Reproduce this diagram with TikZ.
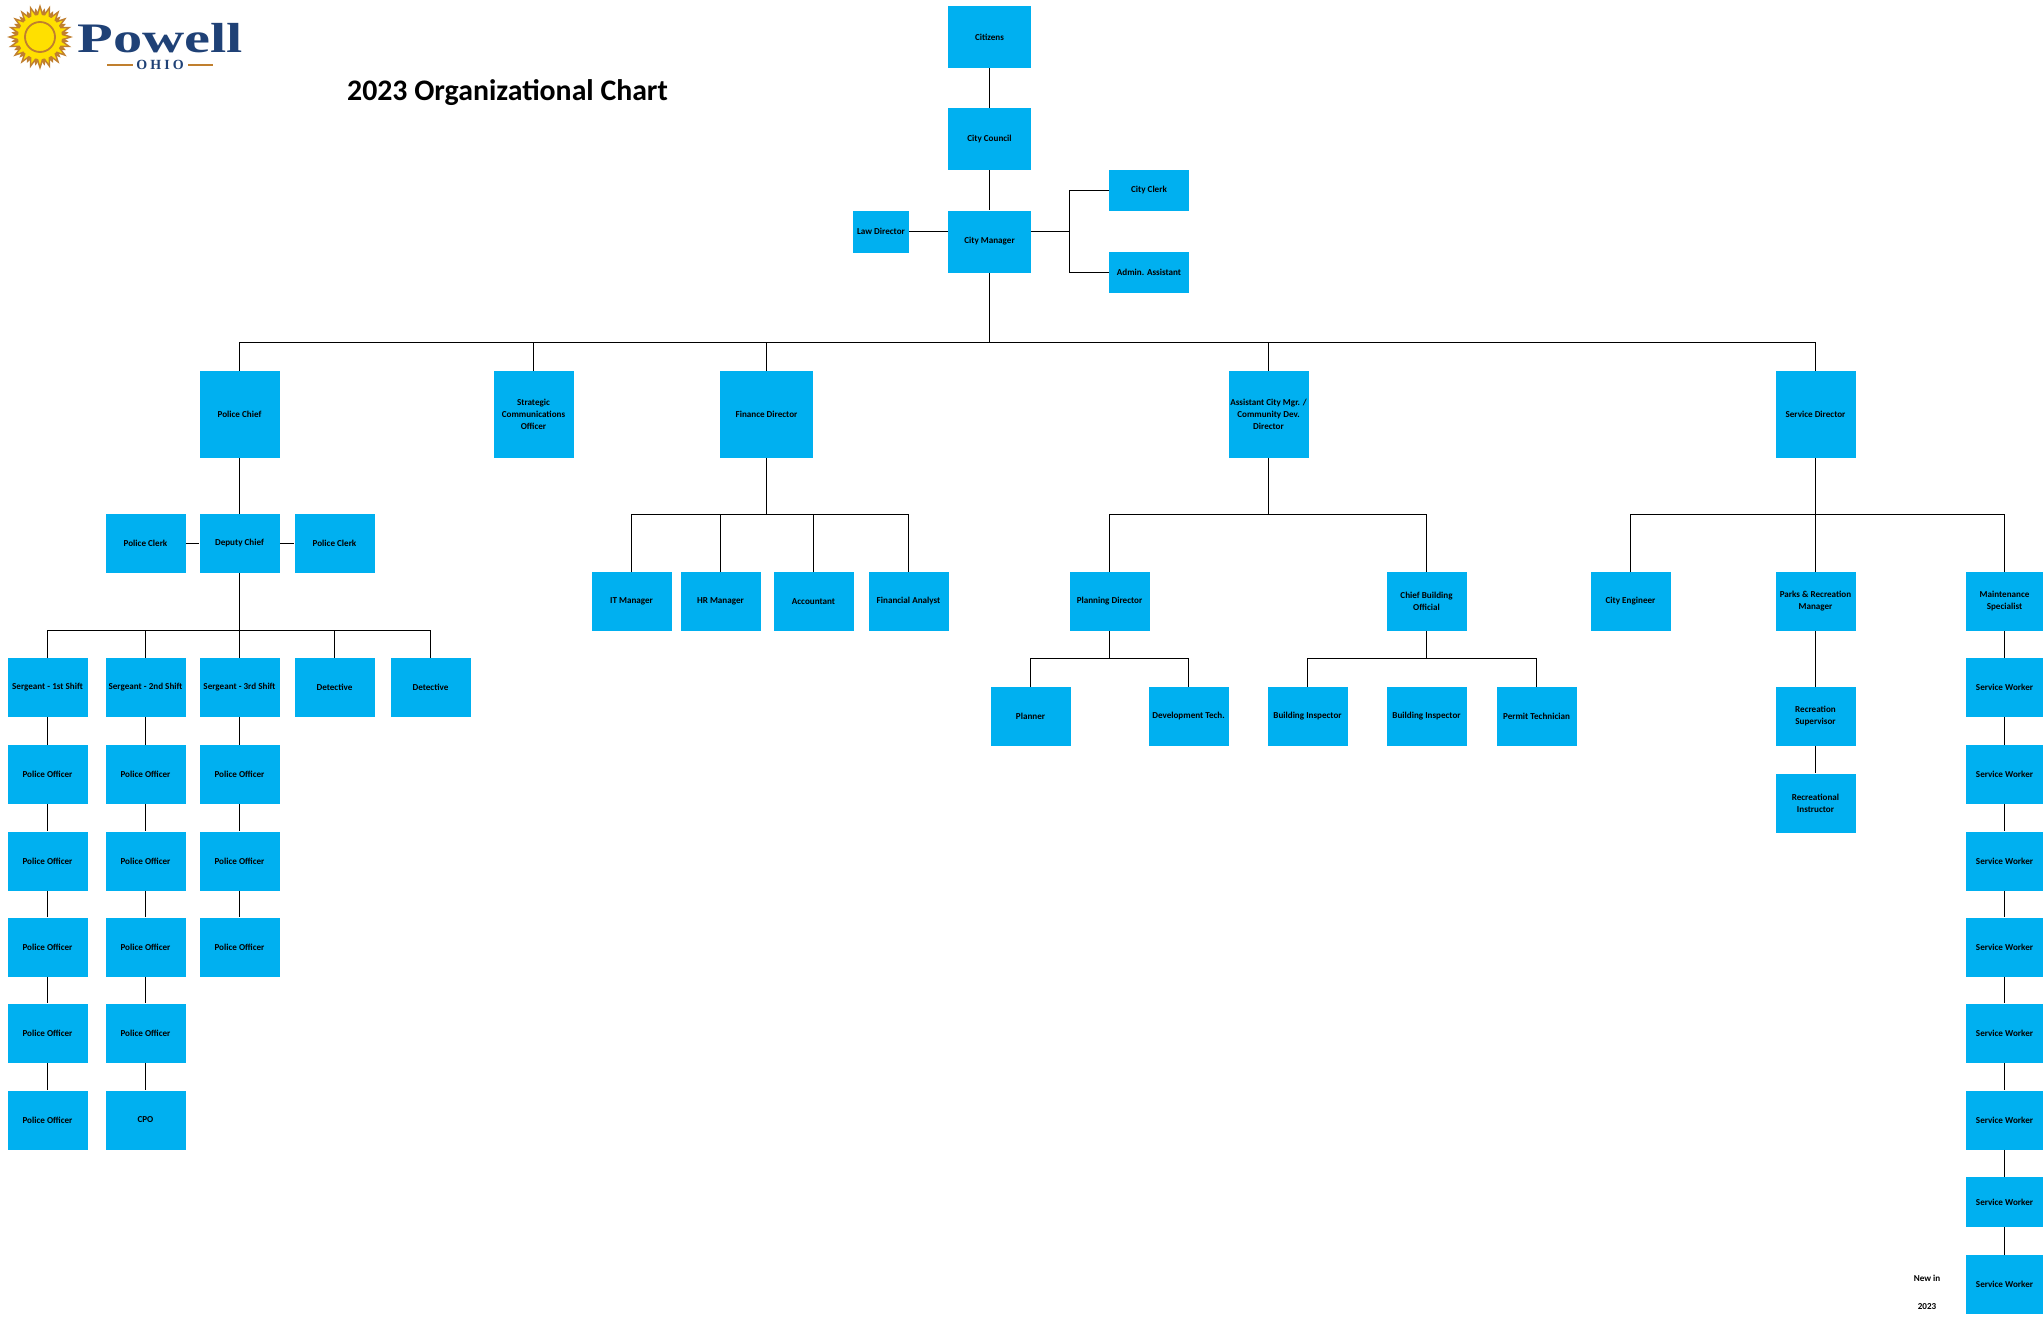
\documentclass[tikz,border=0pt]{standalone}
\usepackage{fontspec}
\setmainfont{Carlito}
\newfontfamily\logofont{Liberation Serif}
\usepackage{tikz}

\definecolor{boxblue}{HTML}{00B0F0}
\definecolor{sunbrown}{HTML}{C07F2E}
\definecolor{sunyellow}{HTML}{FFE000}
\definecolor{logoblue}{HTML}{1F4176}

\tikzset{
	orgbox/.style={fill=boxblue, font=\fontsize{4.55}{6}\selectfont\bfseries, align=center, inner sep=0pt, minimum width=40pt, minimum height=29.5pt},
	tallbox/.style={orgbox, minimum height=43.5pt},
	topbox/.style={orgbox, minimum width=41.5pt, minimum height=31pt},
	smallbox/.style={orgbox, minimum height=20.5pt},
	plaintext/.style={font=\fontsize{4.55}{6}\selectfont\bfseries, inner sep=0pt},
	link/.style={line width=0.7pt}
}

\begin{document}
\begin{tikzpicture}[x=0.5pt, y=-0.5pt]
	\useasboundingbox (0,0) rectangle (2043,1323);

	% logo
	\begin{scope}[shift={(40,37)}]
		\foreach \a in {0,18,...,342} \fill[sunbrown] (\a-11:21) -- (\a:33) -- (\a+11:21) -- cycle;
		\foreach \a in {9,27,...,351} \fill[sunbrown] (\a-10:21) -- (\a:29) -- (\a+10:21) -- cycle;
		\foreach \a in {0,18,...,342} \fill[sunyellow] (\a-7:20) -- (\a:28) -- (\a+7:20) -- cycle;
		\fill[sunyellow] (0,0) circle (22);
		\draw[sunbrown, line width=0.9pt, fill=sunyellow] (0,0) circle (15);
	\end{scope}
	\node[font=\logofont\bfseries\fontsize{21}{21}\selectfont, text=logoblue, inner sep=0pt, anchor=base, xscale=1.39, transform shape] (powell) at (160.5,52) {Powell};
	\node[font=\logofont\bfseries\fontsize{7}{7}\selectfont\addfontfeature{LetterSpace=22}, text=logoblue, inner sep=0pt] (ohio) at (160,65) {OHIO};
	\fill[sunbrown] (107,63.5) rectangle (133,65.5);
	\fill[sunbrown] (188,63.5) rectangle (213,65.5);

	\node[font=\fontsize{14.9}{16}\selectfont\bfseries, inner sep=0pt] (title) at (507.5,92.5) {2023 Organizational Chart};

	% top of the chart
	\node[topbox] (citizens) at (989.5,37) {Citizens};
	\node[topbox] (council) at (989.5,139) {City Council};
	\node[topbox] (manager) at (989.5,241.5) {City Manager};
	\node[orgbox, minimum width=28pt, minimum height=21pt] (law) at (881,231.5) {Law Director};
	\node[smallbox] (clerk) at (1149,190.5) {City Clerk};
	\node[smallbox] (admin) at (1149,272.5) {Admin. Assistant};

	\coordinate (officeJoint) at (1069.5,231.5);
	\coordinate (topBus) at (989.5,342.5);

	\draw[link] (citizens) -- (council);
	\draw[link] (council) -- (manager);
	\draw[link] (law.east) -- (law.east -| manager.west);
	\draw[link] (officeJoint -| manager.east) -- (officeJoint);
	\draw[link] (clerk.west) -| (officeJoint);
	\draw[link] (admin.west) -| (officeJoint);
	\draw[link] (manager.south) -- (topBus);

	% directors
	\node[tallbox] (chief) at (239.5,414.5) {Police Chief};
	\node[tallbox] (strategic) at (533.5,414.5) {Strategic\\Communications\\Officer};
	\node[tallbox, minimum width=46.5pt] (finance) at (766.5,414.5) {Finance Director};
	\node[tallbox] (assistant) at (1268.5,414.5) {Assistant City Mgr. /\\Community Dev.\\Director};
	\node[tallbox] (service) at (1815.5,414.5) {Service Director};

	\foreach \n in {chief,strategic,finance,assistant,service}
		\draw[link] (topBus) -| (\n.north);

	% police
	\node[orgbox] (deputy) at (239.5,543.5) {Deputy Chief};
	\node[orgbox] (policeClerkA) at (145.5,543.5) {Police Clerk};
	\node[orgbox] (policeClerkB) at (334.5,543.5) {Police Clerk};
	\node[orgbox] (sergeantA) at (47.5,687.5) {Sergeant - 1st Shift};
	\node[orgbox] (sergeantB) at (145.5,687.5) {Sergeant - 2nd Shift};
	\node[orgbox] (sergeantC) at (239.5,687.5) {Sergeant - 3rd Shift};
	\node[orgbox] (detectiveA) at (334.5,687.5) {Detective};
	\node[orgbox] (detectiveB) at (430.5,687.5) {Detective};

	\foreach \y [count=\i] in {774.5,861,947,1033,1120}
		\node[orgbox] (officerA\i) at (47.5,\y) {Police Officer};
	\foreach \y [count=\i] in {774.5,861,947,1033}
		\node[orgbox] (officerB\i) at (145.5,\y) {Police Officer};
	\node[orgbox] (cpo) at (145.5,1120) {CPO};
	\foreach \y [count=\i] in {774.5,861,947}
		\node[orgbox] (officerC\i) at (239.5,\y) {Police Officer};

	\coordinate (policeBus) at (239.5,630.5);

	\draw[link] (chief) -- (deputy);
	\draw[link] (policeClerkA) -- (deputy);
	\draw[link] (deputy) -- (policeClerkB);
	\draw[link] (deputy) -- (policeBus);
	\foreach \n in {sergeantA,sergeantB,sergeantC,detectiveA,detectiveB}
		\draw[link] (policeBus) -| (\n.north);

	\foreach \n in {A,B,C}
		\draw[link] (sergeant\n) -- (officer\n1);
	\foreach \i/\j in {1/2,2/3,3/4,4/5}
		\draw[link] (officerA\i) -- (officerA\j);
	\foreach \i/\j in {1/2,2/3,3/4}
		\draw[link] (officerB\i) -- (officerB\j);
	\draw[link] (officerB4) -- (cpo);
	\foreach \i/\j in {1/2,2/3}
		\draw[link] (officerC\i) -- (officerC\j);

	% finance
	\node[orgbox] (it) at (631.5,601.5) {IT Manager};
	\node[orgbox] (hr) at (720.5,601.5) {HR Manager};
	\node[orgbox] (accountant) at (813.5,601.5) {Accountant};
	\node[orgbox] (analyst) at (908.5,601.5) {Financial Analyst};

	\coordinate (financeBus) at (766.5,514.5);

	\draw[link] (finance) -- (financeBus);
	\foreach \n in {it,hr,accountant,analyst}
		\draw[link] (financeBus) -| (\n.north);

	% community development
	\node[orgbox] (planning) at (1109.5,601.5) {Planning Director};
	\node[orgbox] (building) at (1426.5,601.5) {Chief Building\\Official};
	\node[orgbox] (planner) at (1030.5,716.5) {Planner};
	\node[orgbox] (devtech) at (1188.5,716.5) {Development Tech.};
	\node[orgbox] (inspectorA) at (1307.5,716.5) {Building Inspector};
	\node[orgbox] (inspectorB) at (1426.5,716.5) {Building Inspector};
	\node[orgbox] (permit) at (1536.5,716.5) {Permit Technician};

	\coordinate (assistantBus) at (1268.5,514.5);
	\coordinate (planningBus) at (1109.5,658.5);
	\coordinate (buildingBus) at (1426.5,658.5);

	\draw[link] (assistant) -- (assistantBus);
	\draw[link] (assistantBus) -| (planning.north);
	\draw[link] (assistantBus) -| (building.north);
	\draw[link] (planning) -- (planningBus);
	\draw[link] (planningBus) -| (planner.north);
	\draw[link] (planningBus) -| (devtech.north);
	\draw[link] (building) -- (buildingBus);
	\draw[link] (buildingBus) -| (inspectorA.north);
	\draw[link] (buildingBus) -| (permit.north);

	% service
	\node[orgbox] (engineer) at (1630.5,601.5) {City Engineer};
	\node[orgbox] (parks) at (1815.5,601.5) {Parks \& Recreation\\Manager};
	\node[orgbox, minimum width=39pt] (maintenance) at (2004.5,601.5) {Maintenance\\Specialist};
	\node[orgbox] (supervisor) at (1815.5,716.5) {Recreation\\Supervisor};
	\node[orgbox] (instructor) at (1815.5,803) {Recreational\\Instructor};

	\foreach \y [count=\i] in {687.5,774.5,861,947,1033,1120}
		\node[orgbox, minimum width=39pt] (worker\i) at (2004.5,\y) {Service Worker};
	\node[orgbox, minimum width=39pt, minimum height=25pt] (worker7) at (2004.5,1202) {Service Worker};
	\node[orgbox, minimum width=39pt] (worker8) at (2004.5,1284.5) {Service Worker};

	\coordinate (serviceBus) at (1815.5,514.5);

	\draw[link] (service) -- (parks);
	\draw[link] (serviceBus) -| (engineer.north);
	\draw[link] (serviceBus) -| (maintenance.north);
	\draw[link] (parks) -- (supervisor);
	\draw[link] (supervisor) -- (instructor);
	\draw[link] (maintenance) -- (worker1);
	\foreach \i/\j in {1/2,2/3,3/4,4/5,5/6,6/7,7/8}
		\draw[link] (worker\i) -- (worker\j);

	\node[plaintext] (newin) at (1927,1278) {New in};
	\node[plaintext] (newyear) at (1927,1307) {2023};
\end{tikzpicture}
\end{document}
